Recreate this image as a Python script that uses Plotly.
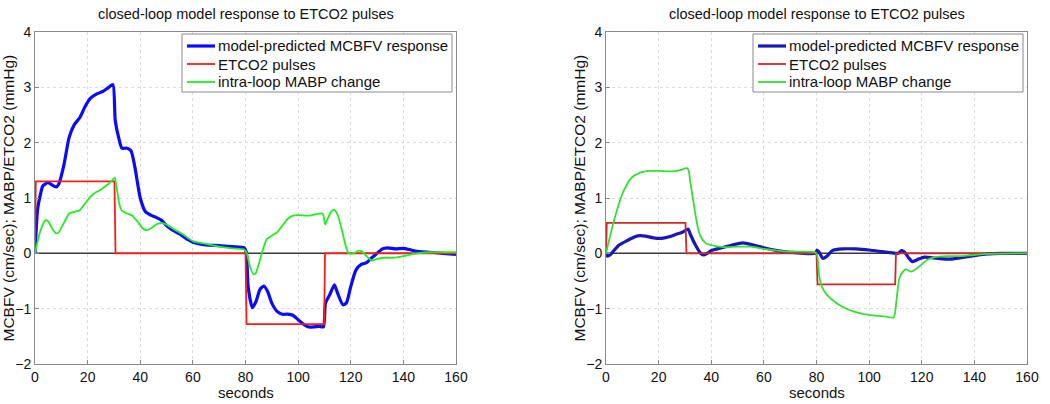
import plotly.graph_objects as go

# ---------------- data ----------------
# Left panel
L_blue_t = [0, 1, 2, 3, 5, 6, 8, 9, 11, 13, 15, 17, 19, 21, 23, 26, 28, 29.6, 30.5, 32, 33, 35, 36.5, 38, 40, 42, 44, 46, 48, 50, 52, 55, 58, 60, 65, 70, 75, 79.5, 80.3,
            81, 82.6, 84, 85.5, 87, 88.5, 90, 92, 94, 96, 98, 100, 102, 104, 106, 108, 109.6, 110.4, 112, 113.8, 115, 117, 118.3, 120, 122, 124, 126, 128, 130, 132, 134, 137, 140, 143, 146, 150, 155, 160]
L_blue_v = [0, 0.8, 1.05, 1.22, 1.28, 1.25, 1.2, 1.25, 1.6, 2.1, 2.33, 2.45, 2.65, 2.8, 2.87, 2.93, 3.0, 3.05, 2.4, 2.05, 1.9, 1.9, 1.85, 1.55, 1.0, 0.75, 0.69, 0.65, 0.6, 0.5, 0.43, 0.35, 0.25, 0.2, 0.15, 0.14, 0.12, 0.1, 0.02,
            -0.6, -0.98, -0.87, -0.65, -0.59, -0.7, -0.9, -1.05, -1.1, -1.1, -1.12, -1.2, -1.28, -1.33, -1.33, -1.32, -1.33, -0.9, -0.75, -0.57, -0.72, -0.93, -0.9, -0.6, -0.3, -0.2, -0.17, -0.08, 0.0, 0.08, 0.1, 0.08, 0.09, 0.06, 0.03, 0.02, 0.0, -0.02]
L_red_t = [0, 0.3, 30.2, 30.6, 80.0, 80.4, 109.9, 110.2, 160]
L_red_v = [0, 1.3, 1.3, 0, 0, -1.28, -1.28, 0, 0]
L_green_t = [0, 2, 4, 5, 6.5, 8, 9, 11, 13, 15, 17, 19, 21, 23, 25, 27, 29, 30.3, 31, 32, 33, 35, 37, 39, 41, 42.5, 44, 46, 48, 50, 53, 56, 60, 65, 70, 75, 79.5, 80.5,
             81.5, 83, 84, 85, 86.5, 88, 90, 92, 94, 96, 98, 100, 104, 106, 109.3, 110.3, 111, 112.5, 113.6, 115, 116.5, 118, 119.2, 121, 123, 124, 126, 128, 130, 133, 136, 140, 145, 150, 160]
L_green_v = [0, 0.4, 0.6, 0.58, 0.45, 0.36, 0.38, 0.55, 0.72, 0.75, 0.78, 0.9, 1.02, 1.1, 1.15, 1.22, 1.3, 1.37, 1.2, 0.9, 0.77, 0.72, 0.68, 0.57, 0.45, 0.42, 0.45, 0.52, 0.55, 0.52, 0.43, 0.35, 0.22, 0.17, 0.12, 0.09, 0.07, 0.0,
             -0.2, -0.38, -0.35, -0.2, 0.05, 0.25, 0.32, 0.38, 0.5, 0.62, 0.68, 0.69, 0.68, 0.7, 0.72, 0.52, 0.6, 0.75, 0.79, 0.7, 0.45, 0.15, 0.0, 0.0, 0.05, 0.04, -0.05, -0.13, -0.1, -0.08, -0.08, -0.05, 0.0, 0.02, 0.02]

# Right panel
R_blue_t = [0, 0.5, 1.5, 3, 5, 8, 11, 13, 15, 18, 21, 24, 27, 29, 31.2, 32, 34, 36, 37, 38.5, 40, 44, 48, 52, 56, 60, 65, 70, 79.5, 80.2, 81, 82.4, 84, 86, 90, 95, 100, 105, 110, 111, 112.3, 113.5, 115, 116.5, 119, 121, 124, 128, 132, 136, 140, 145, 150, 160]
R_blue_v = [0, -0.05, -0.03, 0.05, 0.15, 0.23, 0.3, 0.32, 0.31, 0.28, 0.27, 0.3, 0.35, 0.38, 0.44, 0.35, 0.15, 0.0, -0.03, 0.0, 0.05, 0.1, 0.15, 0.19, 0.15, 0.1, 0.05, 0.02, 0.0, 0.06, 0.02, -0.09, -0.05, 0.05, 0.08, 0.08, 0.06, 0.03, 0.0, 0.0, 0.05, 0.02, -0.08, -0.15, -0.1, -0.07, -0.08, -0.1, -0.1, -0.07, -0.04, -0.01, 0.0, 0.0]
R_red_t = [0, 0.3, 30.2, 30.6, 80.0, 80.4, 109.9, 110.2, 160]
R_red_v = [0, 0.55, 0.55, 0, 0, -0.56, -0.56, 0, 0]
R_green_t = [0, 2, 4, 6, 8, 10, 13, 16, 20, 25, 28, 30.8, 31.5, 32, 33, 34, 35, 36, 38, 40, 43, 46, 50, 55, 60, 65, 70, 79.5, 80.3,
             81, 82, 84, 87, 90, 94, 98, 103, 106, 109.3, 110.5, 111.5, 113, 114, 116, 118, 120, 122, 125, 130, 135, 140, 145, 160]
R_green_v = [0, 0.4, 0.75, 1.05, 1.25, 1.38, 1.46, 1.49, 1.49, 1.48, 1.5, 1.54, 1.48, 1.3, 1.0, 0.7, 0.45, 0.3, 0.18, 0.15, 0.12, 0.11, 0.12, 0.12, 0.08, 0.05, 0.03, 0.02, -0.05,
             -0.4, -0.6, -0.75, -0.88, -0.97, -1.05, -1.1, -1.13, -1.14, -1.16, -0.8, -0.45, -0.32, -0.29, -0.33, -0.28, -0.2, -0.12, -0.07, -0.05, -0.05, -0.03, -0.01, 0.0]

zero_t = [0, 160]
zero_v = [0, 0]

x_ticks = [0, 20, 40, 60, 80, 100, 120, 140, 160]
y_ticks = [-2, -1, 0, 1, 2, 3, 4]

title_text = "closed-loop model response to ETCO2 pulses"
xlabel_text = "seconds"
ylabel_text = "MCBFV (cm/sec); MABP/ETCO2 (mmHg)"
names = ["model-predicted MCBFV response", "ETCO2 pulses", "intra-loop MABP change"]

FONT = "Liberation Sans, Arial, sans-serif"
W, H = 1050, 404

fig = go.Figure()

panels = [
    dict(xa="x", ya="y", blue=(L_blue_t, L_blue_v), red=(L_red_t, L_red_v), green=(L_green_t, L_green_v),
         colors=["#0a0aff", "#ff1a1a", "#22ee22"], leg_box=(182, 452)),
    dict(xa="x2", ya="y2", blue=(R_blue_t, R_blue_v), red=(R_red_t, R_red_v), green=(R_green_t, R_green_v),
         colors=["#1818b8", "#d02828", "#33e033"], leg_box=(753, 1023)),
]
widths = [3.2, 1.8, 1.8]
shapes_kind = ["spline", "linear", "spline"]

shapes = []
annos = []

for p in panels:
    fig.add_trace(go.Scatter(x=zero_t, y=zero_v, mode="lines", line=dict(color="#3a3a3a", width=1.5),
                             xaxis=p["xa"], yaxis=p["ya"], showlegend=False, hoverinfo="skip"))
    for k, key in enumerate(["blue", "red", "green"]):
        fig.add_trace(go.Scatter(x=p[key][0], y=p[key][1], mode="lines", name=names[k],
                                 line=dict(color=p["colors"][k], width=widths[k], shape=shapes_kind[k],
                                           smoothing=0.6 if shapes_kind[k] == "spline" else None),
                                 xaxis=p["xa"], yaxis=p["ya"], showlegend=False))
    # legend box (custom, to match the compact row spacing)
    x0, x1 = p["leg_box"]
    shapes.append(dict(type="rect", xref="paper", yref="paper", x0=x0 / W, x1=x1 / W,
                       y0=1 - 92 / H, y1=1 - 34 / H, line=dict(color="#8a8a8a", width=1),
                       fillcolor="white", layer="above"))
    for k in range(3):
        ry = 46 + 18 * k
        shapes.append(dict(type="line", xref="paper", yref="paper", x0=(x0 + 5) / W, x1=(x0 + 33) / W,
                           y0=1 - ry / H, y1=1 - ry / H, line=dict(color=p["colors"][k], width=widths[k]),
                           layer="above"))
        annos.append(dict(text=names[k], x=(x0 + 34) / W, y=1 - ry / H, xref="paper", yref="paper",
                          showarrow=False, xanchor="left", yanchor="middle",
                          font=dict(family=FONT, size=15, color="#111")))

y_dom = [1 - 364 / H, 1 - 32 / H]
xdoms = [[35 / W, 456 / W], [606 / W, 1027 / W]]

axis_common = dict(showline=True, mirror=True, linecolor="#8a8a8a", linewidth=1,
                   ticks="inside", ticklen=4, tickcolor="#8a8a8a", automargin=False,
                   showgrid=True, gridcolor="#dcdcdc", griddash="dot", gridwidth=1,
                   zeroline=False, tickfont=dict(family=FONT, size=14, color="#111"))

fig.update_layout(
    template="none",
    width=W, height=H, margin=dict(l=0, r=0, t=0, b=0, autoexpand=False),
    paper_bgcolor="white", plot_bgcolor="white",
    xaxis=dict(domain=xdoms[0], range=[0, 160], tickvals=x_ticks, anchor="y", **axis_common),
    yaxis=dict(domain=y_dom, range=[-2, 4], tickvals=y_ticks, anchor="x", **axis_common),
    xaxis2=dict(domain=xdoms[1], range=[0, 160], tickvals=x_ticks, anchor="y2", **axis_common),
    yaxis2=dict(domain=y_dom, range=[-2, 4], tickvals=y_ticks, anchor="x2", **axis_common),
    showlegend=False,
)

for xd in xdoms:
    cx = (xd[0] + xd[1]) / 2
    annos.append(dict(text=title_text, x=cx, y=1 - 14 / H, xref="paper", yref="paper", showarrow=False,
                      xanchor="center", yanchor="middle", font=dict(family=FONT, size=14.5, color="#111")))
    annos.append(dict(text=xlabel_text, x=cx, y=1 - 392 / H, xref="paper", yref="paper", showarrow=False,
                      xanchor="center", yanchor="middle", font=dict(family=FONT, size=15, color="#111")))
for xx in [-3 / W, 568 / W]:
    annos.append(dict(text=ylabel_text, x=xx, y=(y_dom[0] + y_dom[1]) / 2, xref="paper", yref="paper",
                      showarrow=False, textangle=-90, xanchor="left", yanchor="middle",
                      font=dict(family=FONT, size=15.5, color="#111")))
fig.update_layout(annotations=annos, shapes=shapes)

fig.write_html("out.html", config={"displayModeBar": False},
               post_script="document.body.style.margin='0';")
